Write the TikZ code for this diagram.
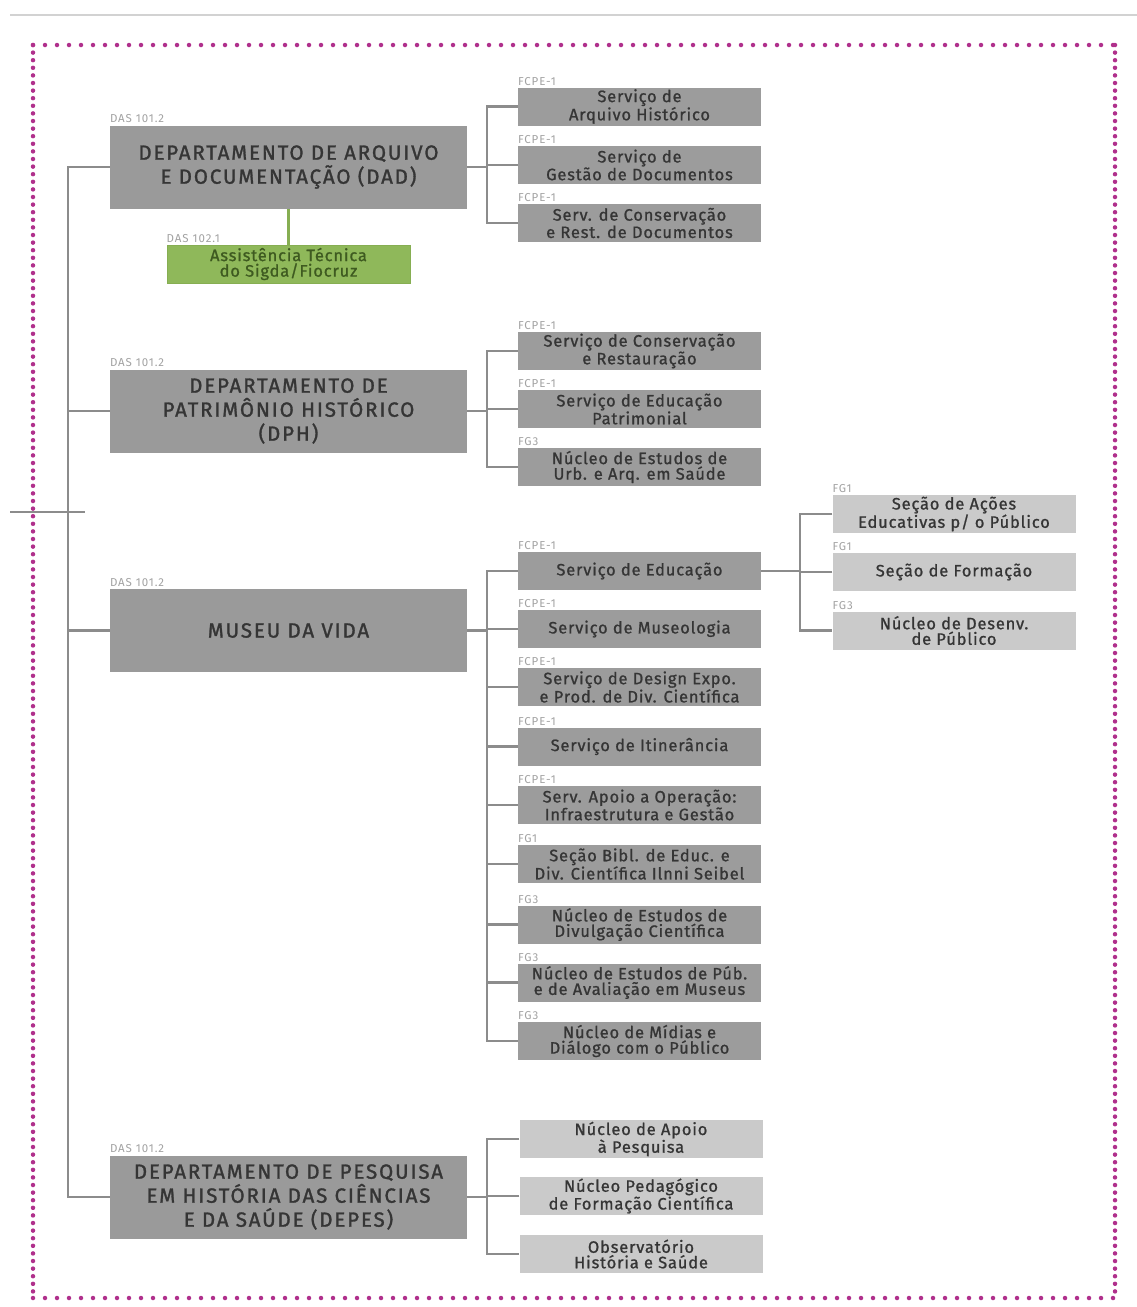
\documentclass[tikz,border=0pt]{standalone}
\usepackage{fontspec}
\setmainfont{Fira Sans}
\newfontfamily\deptfont{Fira Sans}[FakeBold=1.4,LetterSpace=9]
\newfontfamily\subfont{Fira Sans}[FakeBold=1,LetterSpace=5]
\newfontfamily\tagfont{Fira Sans}[LetterSpace=8]
\definecolor{deptgray}{HTML}{9A9A9A}
\definecolor{subgray}{HTML}{9C9C9C}
\definecolor{litegray}{HTML}{CACACA}
\definecolor{linegray}{HTML}{8C8C8C}
\definecolor{textdark}{HTML}{353535}
\definecolor{taggray}{HTML}{A2A2A2}
\definecolor{greenfill}{HTML}{8FB85A}
\definecolor{greenline}{HTML}{86AE52}
\definecolor{greentext}{HTML}{3E5A20}
\definecolor{dotpink}{HTML}{B0308C}
\definecolor{rulegray}{HTML}{D2D2D2}
\begin{document}
\begin{tikzpicture}[x=1pt,y=-1pt,
  conn/.style={draw=linegray,line width=2.2pt},
  dept/.style={fill=deptgray,minimum width=357pt,minimum height=83pt,inner sep=0pt,
    align=center,font=\deptfont\fontsize{20.5}{24}\selectfont,text=textdark},
  sub/.style={fill=subgray,minimum width=243pt,minimum height=38pt,inner sep=0pt,
    align=center,font=\subfont\fontsize{16.5}{15.5}\selectfont,text=textdark},
  lite/.style={sub,fill=litegray},
  greenbox/.style={sub,fill=greenfill,draw=greenline,line width=1pt,text=greentext},
  tag/.style={anchor=south west,inner sep=0pt,font=\tagfont\fontsize{11.5}{11.5}\selectfont,text=taggray},
  border/.style={draw=dotpink,line width=4.5pt,line cap=round},
]
\useasboundingbox (0,0) rectangle (1137,1307);

% header rule
\draw[rulegray,line width=2pt] (10,15) -- (1137,15);

% dotted frame
\draw[border,dash pattern=on 0pt off 12pt] (33,45) -- (1115,45);
\draw[border,dash pattern=on 0pt off 12pt] (33,1298) -- (1115,1298);
\draw[border,dash pattern=on 0pt off 7.6pt] (33,45) -- (33,1298);
\draw[border,dash pattern=on 0pt off 7.6pt] (1115,45) -- (1115,1298);

% departments
\node[dept] (dad) at (288.5,167) {DEPARTAMENTO DE ARQUIVO\\E DOCUMENTAÇÃO (DAD)};
\node[dept] (dph) at (288.5,411) {DEPARTAMENTO DE\\PATRIMÔNIO HISTÓRICO\\(DPH)};
\node[dept] (mv) at (288.5,630.5) {MUSEU DA VIDA};
\node[dept] (depes) at (288.5,1197) {DEPARTAMENTO DE PESQUISA\\EM HISTÓRIA DAS CIÊNCIAS\\E DA SAÚDE (DEPES)};
\foreach \d in {dad,dph,mv,depes}
  \node[tag] at ([yshift=2pt]\d.north west) {DAS 101.2};

% technical assistance
\node[greenbox] (ast) at (288.5,264) {Assistência Técnica\\do Sigda/Fiocruz};
\node[tag] at ([yshift=2pt]ast.north west) {DAS 102.1};
\draw[draw=greenline,line width=2.2pt] (dad.south) -- (ast.north);

% DAD services
\node[sub] (dad1) at (639.5,106.5) {Serviço de\\Arquivo Histórico};
\node[sub] (dad2) at (639.5,165) {Serviço de\\Gestão de Documentos};
\node[sub] (dad3) at (639.5,223) {Serv. de Conservação\\e Rest. de Documentos};

% DPH services
\node[sub] (dph1) at (639.5,351) {Serviço de Conservação\\e Restauração};
\node[sub] (dph2) at (639.5,409) {Serviço de Educação\\Patrimonial};
\node[sub] (dph3) at (639.5,467) {Núcleo de Estudos de\\Urb. e Arq. em Saúde};

% Museu da Vida services
\node[sub] (mv1) at (639.5,571) {Serviço de Educação};
\node[sub] (mv2) at (639.5,629) {Serviço de Museologia};
\node[sub] (mv3) at (639.5,687) {Serviço de Design Expo.\\e Prod. de Div. Científica};
\node[sub] (mv4) at (639.5,746.5) {Serviço de Itinerância};
\node[sub] (mv5) at (639.5,805) {Serv. Apoio a Operação:\\Infraestrutura e Gestão};
\node[sub] (mv6) at (639.5,864) {Seção Bibl. de Educ. e\\Div. Científica Ilnni Seibel};
\node[sub] (mv7) at (639.5,924.5) {Núcleo de Estudos de\\Divulgação Científica};
\node[sub] (mv8) at (639.5,982.5) {Núcleo de Estudos de Púb.\\e de Avaliação em Museus};
\node[sub] (mv9) at (639.5,1041) {Núcleo de Mídias e\\Diálogo com o Público};

% education sections
\node[lite] (ed1) at (954,514) {Seção de Ações\\Educativas p/ o Público};
\node[lite] (ed2) at (954,572) {Seção de Formação};
\node[lite] (ed3) at (954,630.5) {Núcleo de Desenv.\\de Público};

% DEPES units
\node[lite] (dp1) at (641,1139) {Núcleo de Apoio\\à Pesquisa};
\node[lite] (dp2) at (641,1196) {Núcleo Pedagógico\\de Formação Científica};
\node[lite] (dp3) at (641,1254) {Observatório\\História e Saúde};

% function tags
\foreach \n/\t in {dad1/FCPE-1,dad2/FCPE-1,dad3/FCPE-1,
                   dph1/FCPE-1,dph2/FCPE-1,dph3/FG3,
                   mv1/FCPE-1,mv2/FCPE-1,mv3/FCPE-1,mv4/FCPE-1,mv5/FCPE-1,
                   mv6/FG1,mv7/FG3,mv8/FG3,mv9/FG3,
                   ed1/FG1,ed2/FG1,ed3/FG3}
  \node[tag] at ([yshift=1.5pt]\n.north west) {\t};

% bracket positions
\coordinate (trunk) at (68,0);
\coordinate (bx) at (487,0);
\coordinate (ex) at (800,0);
\coordinate (inL) at (10,512);
\coordinate (inR) at (85,512);

% trunk to departments
\draw[conn] (inL) -- (inR);
\draw[conn] (dad.west) -- (dad.west -| trunk) -- (depes.west -| trunk) -- (depes.west);
\draw[conn] (dph.west) -- (dph.west -| trunk);
\draw[conn] (mv.west) -- (mv.west -| trunk);

% department brackets
\draw[conn] (dad.east) -- (dad.east -| bx);
\draw[conn] (dad1.west) -- (dad1.west -| bx) -- (dad3.west -| bx) -- (dad3.west);
\draw[conn] (dad2.west) -- (dad2.west -| bx);

\draw[conn] (dph.east) -- (dph.east -| bx);
\draw[conn] (dph1.west) -- (dph1.west -| bx) -- (dph3.west -| bx) -- (dph3.west);
\draw[conn] (dph2.west) -- (dph2.west -| bx);

\draw[conn] (mv.east) -- (mv.east -| bx);
\draw[conn] (mv1.west) -- (mv1.west -| bx) -- (mv9.west -| bx) -- (mv9.west);
\foreach \k in {2,...,8}
  \draw[conn] (mv\k.west) -- (mv\k.west -| bx);

\draw[conn] (depes.east) -- (depes.east -| bx);
\draw[conn] (dp1.west) -- (dp1.west -| bx) -- (dp3.west -| bx) -- (dp3.west);
\draw[conn] (dp2.west) -- (dp2.west -| bx);

% education bracket
\draw[conn] (mv1.east) -- (mv1.east -| ex);
\draw[conn] (ed2.west) -- (ed2.west -| ex);
\draw[conn] (ed1.west) -- (ed1.west -| ex) -- (ed3.west -| ex) -- (ed3.west);
\end{tikzpicture}
\end{document}
